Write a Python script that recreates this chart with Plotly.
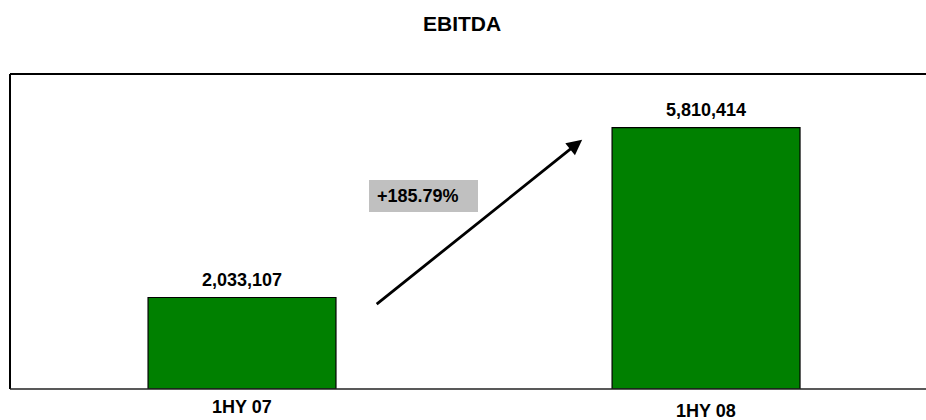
import plotly.graph_objects as go

categories = ["1HY 07", "1HY 08"]
ebitda = [2033107, 5810414]
growth_label = "+185.79%"
title_text = "EBITDA"

FONT = "Liberation Sans, Arial, sans-serif"
GREEN = "#008000"

W, H = 926, 420
ML, MR, MT, MB = 10, 0, 74, 31
plot_w, plot_h = W - ML - MR, H - MT - MB


def px_x(px):
    return (px - ML) / plot_w


def px_y(py):
    return 1 - (py - MT) / plot_h


fig = go.Figure()
fig.add_trace(go.Bar(
    x=categories, y=ebitda,
    width=0.405,
    marker=dict(color=GREEN, line=dict(color="#000000", width=1.2)),
    hoverinfo="skip",
))

annotations = []
# value labels above bars
for c, v in zip(categories, ebitda):
    annotations.append(dict(
        x=c, y=v, xref="x", yref="y", text=f"<b>{v:,.0f}</b>",
        showarrow=False, yanchor="middle", yshift=18,
        font=dict(family=FONT, size=18, color="#000000"),
    ))
# category labels below axis (second one slightly lower, as in the original)
label_shifts = [-18, -22]
for c, s in zip(categories, label_shifts):
    annotations.append(dict(
        x=c, y=0, xref="x", yref="paper", text=f"<b>{c}</b>",
        showarrow=False, yanchor="middle", yshift=s,
        font=dict(family=FONT, size=18, color="#000000"),
    ))
# growth arrow
annotations.append(dict(
    x=0.733, y=5.54e6, ax=0.287, ay=1.86e6,
    xref="x", yref="y", axref="x", ayref="y",
    text="", showarrow=True, arrowhead=2, arrowsize=1.1, arrowwidth=2.8,
    arrowcolor="#000000",
))
# growth label text
annotations.append(dict(
    x=px_x(375), y=px_y(196), xref="paper", yref="paper",
    text=f"<b>{growth_label}</b>", showarrow=False,
    xanchor="left", yanchor="middle",
    font=dict(family=FONT, size=18, color="#000000"),
))

fig.update_layout(
    width=W, height=H,
    margin=dict(l=ML, r=MR, t=MT, b=MB),
    paper_bgcolor="#ffffff", plot_bgcolor="#ffffff",
    showlegend=False,
    title=dict(text=f"<b>{title_text}</b>", x=0.499, xanchor="center",
               y=1 - 24 / H, yanchor="middle",
               font=dict(family=FONT, size=21, color="#000000")),
    xaxis=dict(range=[-0.5, 1.474], showticklabels=False, showgrid=False,
               zeroline=False, showline=False, ticks=""),
    yaxis=dict(range=[0, 7.0e6], showticklabels=False, showgrid=False,
               zeroline=False, showline=False, ticks=""),
    shapes=[
        dict(type="rect", xref="paper", yref="paper",
             x0=px_x(369), x1=px_x(478), y0=px_y(212), y1=px_y(180),
             fillcolor="#c0c0c0", line=dict(width=0), layer="below"),
        dict(type="line", xref="paper", yref="paper", x0=0, x1=1, y0=1, y1=1,
             line=dict(color="#000000", width=2)),
        dict(type="line", xref="paper", yref="paper", x0=0, x1=0, y0=0, y1=1,
             line=dict(color="#000000", width=2)),
        dict(type="line", xref="paper", yref="paper", x0=0, x1=1, y0=0, y1=0,
             line=dict(color="#222222", width=1.5)),
    ],
    annotations=annotations,
)

fig.write_html("out.html", config={"displayModeBar": False},
               post_script="document.body.style.margin='0';")
